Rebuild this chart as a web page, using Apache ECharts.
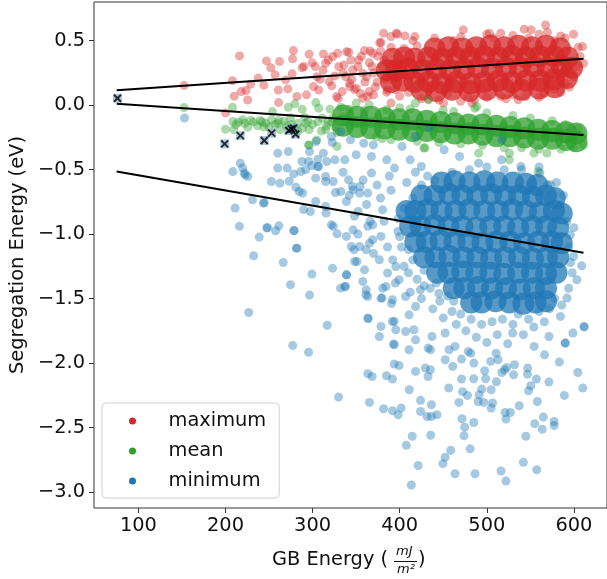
<!DOCTYPE html>
<html>
<head>
<meta charset="utf-8">
<script src="https://cdn.jsdelivr.net/npm/echarts@6/dist/echarts.min.js"></script>
<style>
  html, body { margin: 0; padding: 0; background: #fff; }
  #chart { width: 607px; height: 579px; }
</style>
</head>
<body>
<div id="chart"></div>
<script>
// tick values
var xTicks = [100, 200, 300, 400, 500, 600];
var yTicks = [-3.0, -2.5, -2.0, -1.5, -1.0, -0.5, 0.0, 0.5];
var seriesNames = ['maximum', 'mean', 'minimum'];

// maximum - scattered points
var maxSparse = [
  [152.5,0.152],[216,0.382],[208,0.19],[200,-0.06],[210,0.07],[218,0.105],[225.5,0.04],[223.6,0.113],[229,0.163],
  [237.5,0.21],[247,0.343],[252,0.29],[257,0.235],[244,0.155],[260.6,0.118],[262,0.338],[261,0.02],[269,0.196],
  [271.5,0.126],[276.5,0.243],[277,0.359],[278,0.423],[282,0.067],[288,0.29],[290,0.3],[293,0.08],[296,0.395],
  [299.5,0.328],[303,0.3],[301,0.144],[307,0.118],[312.5,0.397],[308.6,0.2],[315,0.325],[319,0.183],[323,0.377],
  [325.6,0.227],[328.7,0.403],[329.5,0.054],[334,0.105],[336,0.312],[341.5,0.41],[342.6,0.17],[346,0.274],
  [353,0.351],[350,0.132],[357.6,0.248],[363,0.067],[369,0.403],[377,0.485],[381.5,0.558],[396,0.558],[386,0.118],
  [392,0.196],[567.5,0.622],[569.5,0.566],[473,0.584],[390,0.532],[397.5,0.55],[406,0.537],[417.5,0.532],
  [378.5,0.485],[599.6,0.55],[610,0.454],[611,0.325],[590,0.17],[577,0.124],[544.8,0.067],[536,0.041],[516,0.067],
  [486,0.041],[483,0.016],[450.3,0.016],[433,0.047],[390,0.016],[365,0.105],[357.6,0.054],[342.6,0.144],
  [327.5,0.067],[339,0.415],[359.6,0.423],[516,0.558],[543,0.589],[503,0.558],[551,0.584],[584.8,0.537],
  [400,0.07],[425,0.05],[455,0.09],[470,0.03],[500,0.06],[530,0.08],[560,0.06],[585,0.1],[415,0.5],[440,0.52],
  [470,0.53],[500,0.55],[530,0.54],[560,0.55],[590,0.52],[605,0.45],[607,0.38],[604,0.3],[600,0.22],
  [335,0.25],[345,0.2],[352,0.3],[360,0.18],[365,0.33],[370,0.25],[372,0.14],[375,0.38],[380,0.3],[383,0.2],
  [366,0.42],[355,0.09],[370,0.08],[385,0.1],
  [305,0.22],[312,0.27],[318,0.35],[322,0.15],[330,0.3],[338,0.22],[344,0.35],[348,0.12],[356,0.38],[362,0.22],
  [368,0.3],[374,0.18],[378,0.42],[382,0.35],[386,0.25],[390,0.45],[395,0.12],[398,0.3],[405,0.44],[410,0.1],
  [420,0.46],[445,0.04],[462,0.5],[478,0.07],[508,0.52],[522,0.05],[548,0.52],[566,0.09],[578,0.5],[595,0.14]
];
// maximum - dense cloud
var maxCore = [
  [440,0.44],[456,0.45],[472,0.44],[488,0.45],[504,0.46],[520,0.45],[536,0.46],[552,0.45],[568,0.46],[584,0.44],
  [392,0.36],[405,0.37],[417,0.36],[433,0.37],[449,0.36],[465,0.37],[481,0.37],[497,0.38],[513,0.37],[529,0.38],
  [545,0.37],[561,0.38],[577,0.38],[593,0.37],
  [385,0.27],[396,0.27],[410,0.28],[426,0.27],[442,0.28],[458,0.27],[474,0.28],[490,0.29],[506,0.28],[522,0.29],
  [538,0.29],[554,0.3],[570,0.29],[586,0.3],[598,0.29],
  [390,0.18],[403,0.19],[417,0.18],[433,0.18],[449,0.17],[465,0.18],[481,0.17],[497,0.18],[513,0.19],[529,0.18],
  [545,0.19],[561,0.19],[577,0.2],[592,0.21],
  [425,0.12],[442,0.11],[460,0.12],[480,0.11],[500,0.12],[520,0.13],[540,0.12],[560,0.13],[578,0.14]
];

// mean - scattered points
var meanSparse = [
  [152.5,-0.019],[208,-0.016],[200,-0.186],[208.5,-0.127],[215,-0.132],[219.8,-0.114],[225.5,-0.171],[229,-0.119],
  [236.9,-0.16],[239.9,-0.119],[246.4,-0.14],[253.9,-0.05],[252.7,-0.114],[261,-0.119],[267,-0.127],[272,-0.016],
  [274.6,-0.1],[279.5,0.01],[288,-0.031],[290.5,-0.093],[294.7,-0.127],[303.7,0.02],[307,-0.023],[311,-0.1],
  [315,-0.19],[320,-0.031],[323,-0.1],[332.4,-0.016],[334.3,-0.088],[338.8,-0.127],[342.6,-0.031],[350,0.016],
  [359.6,-0.042],[295.4,-0.308],[263,-0.19],[288,-0.18],[304.7,-0.27],[209.5,-0.19],[296,-0.31],[328,-0.32],
  [429,-0.33],[490.7,-0.372],[525.9,-0.424],[559,-0.515],[611,-0.313],[569,-0.372],[488.5,-0.011],[433,0.041],
  [385,-0.036],[486.3,-0.023],[526,-0.372],[554,-0.372],[365,0.002],[418,0.016],[373,-0.243],[390,-0.269],
  [427.7,-0.333],[400,-0.02],[450,-0.04],[500,-0.06],[550,-0.1],[590,-0.15],[380,-0.26],[420,-0.28],[470,-0.3],
  [520,-0.33],[560,-0.34],[600,-0.33],[244,-0.17],[257,-0.15],[270,-0.16],[283,-0.14],[300,-0.15],[318,-0.13],
  [326,-0.17],[283,-0.2],[310,-0.2],
  [212,-0.15],[222,-0.14],[232,-0.13],[242,-0.13],[250,-0.17],[260,-0.14],[276,-0.15],[292,-0.14],[296,-0.19],
  [306,-0.13],[316,-0.16],[322,-0.13],[328,-0.21],[412,-0.03],[462,-0.05],[530,-0.08],[575,-0.12],[605,-0.18],
  [445,-0.29],[495,-0.31],[540,-0.33],[585,-0.34]
];
// mean - dense band
var meanCore = [
  [335,-0.08],[351,-0.09],[367,-0.09],[383,-0.1],[399,-0.11],[415,-0.11],[431,-0.12],[447,-0.13],[463,-0.14],
  [479,-0.15],[495,-0.15],[511,-0.16],[527,-0.17],[543,-0.18],[559,-0.19],[575,-0.2],[591,-0.21],[603,-0.22],
  [335,-0.16],[351,-0.17],[367,-0.18],[383,-0.18],[399,-0.19],[415,-0.2],[431,-0.2],[447,-0.21],[463,-0.22],
  [479,-0.22],[495,-0.23],[511,-0.24],[527,-0.24],[543,-0.25],[559,-0.26],[575,-0.26],[591,-0.27],[603,-0.28]
];

// minimum - scattered points
var minSparse = [
  [153,-0.1],[208.5,-0.515],[217,-0.45],[221.7,-0.527],[225.5,-0.553],[219.8,-0.488],[260,-0.372],[272,-0.36],
  [252.7,-0.592],[260,-0.488],[270.8,-0.488],[278.3,-0.533],[287.8,-0.437],[304,-0.282],[322.6,-0.29],[292,-0.5],
  [299.2,-0.47],[306,-0.419],[312.4,-0.372],[316.2,-0.437],[325.6,-0.424],[303.5,-0.566],[314.9,-0.592],
  [280.8,-0.636],[284.6,-0.67],[222.5,-0.54],[273,-0.59],[286.4,-0.515],[296.5,-0.36],[262.5,-0.605],
  [211,-0.798],[231,-0.734],[243.6,-0.76],[216,-0.94],[247.4,-0.953],[257.6,-0.974],[261.3,-0.936],[238.7,-1.023],
  [278.3,-0.974],[232.3,-1.168],[281.4,-1.109],[266.3,-1.22],[274.6,-1.393],[299.2,-1.31],[296.5,-1.473],
  [226.6,-1.608],[316.8,-1.707],[277.2,-1.863],[322.9,-1.264],[332,-1.419],[338.8,-1.316],[337.6,-1.406],
  [348.3,-1.212],[347.5,-1.122],[357.6,-1.367],[363.3,-1.651],[363.3,-1.484],[378.5,-1.716],[376.6,-1.794],
  [393.7,-1.678],[392.9,-1.853],[390.6,-1.539],[379.7,-1.496],[384.2,-1.406],[323.7,-0.94],[328.2,-0.998],
  [315.4,-0.837],[303.5,-0.747],[289.7,-0.81],[338.8,-1.018],[344.5,-1.096],[295.4,-0.437],[306.7,-0.476],
  [326.2,-0.678],[338.8,-0.747],[354,-0.682],[363.3,-0.94],[369,-1.044],[361.5,-1.122],
  [295.4,-1.916],[329.8,-2.264],[364,-1.656],[363.4,-2.083],[368.3,-2.104],[365.3,-2.305],[381.5,-2.354],
  [384.8,-2.098],[391.7,-2.124],[393.7,-2.008],[399.3,-2.019],[391.7,-2.37],[398.2,-2.401],[401.6,-2.349],
  [407.6,-2.638],[414.4,-2.568],[421.2,-2.794],[413.3,-2.946],[411,-2.207],[418.2,-2.065],[423.9,-2.289],
  [423.9,-2.375],[431.5,-2.414],[436.4,-2.414],[442.8,-2.401],[435.6,-2.56],[429.4,-2.039],[432.6,-2.104],
  [435.3,-2.052],[436.4,-2.323],[449.5,-2.78],[452.1,-2.731],[458.5,-2.677],[463.5,-2.858],[456.3,-2.193],
  [460.9,-2.026],[471,-1.969],[471,-2.124],[472.2,-2.222],[477.8,-2.251],[468,-2.305],[471.5,-2.432],
  [474.6,-2.497],[473.8,-2.564],[480.9,-2.665],[485,-2.461],[486.5,-2.858],[485,-2.122],[494.2,-2.202],
  [491.2,-2.246],[496.5,-2.305],[498.7,-2.122],[505,-2.207],[506.6,-2.31],[505,-2.349],[511,-2.145],
  [516.4,-2.837],[522,-2.915],[522,-2.434],[527,-2.383],[521,-2.383],[537.2,-2.331],[542,-2.77],[544.8,-2.568],
  [548,-2.215],[555,-2.47],[558,-2.298],[563.7,-2.513],[557.3,-2.827],[564.9,-2.419],[571.3,-2.147],
  [577.3,-2.453],[577.3,-2.484],[589,-2.251],[604.5,-2.073],[610.2,-2.194],[583.3,-1.992],[598.9,-1.767],
  [611.7,-1.721],[550.5,-2.176],[566.3,-1.936],[590,-1.845],[517.3,-2.073],[522.9,-2.034],[530.8,-2.091],
  [546.7,-2.086],[497.5,-2.06],[490,-2.298],[406.8,-1.755],[395.5,-1.742],[416.3,-1.742],[410.7,-1.897],
  [432.6,-1.884],[452.2,-1.974],[456.7,-1.897],[481.6,-1.923],[485.1,-2],[504.4,-1.987],[512.9,-1.974],
  [520.4,-2.052],[531.8,-2.013],[546.9,-2.039],[557,-2.124],
  [393.7,-1.858],[391.7,-1.678],[410.7,-1.626],[418.2,-1.82],[437.1,-1.794],[435.3,-1.897],[452.2,-1.767],
  [463.5,-1.871],[478.7,-1.91],[510.7,-1.923],[529.7,-1.767],[554.3,-1.871],[571.3,-1.794],[590.1,-1.845],
  [584.5,-1.638],[611.7,-1.716],[609,-1.246],[603.4,-1.354],[599.6,-1.174],[595.8,-1.006],[584.5,-0.773],
  [573.2,-0.618],[592.1,-1.496],[350.9,-1.212],[359.6,-1.277],[361.5,-1.432],[378.5,-1.496],[380.4,-1.419],
  [391.7,-1.509],[399.3,-1.354],[406.8,-1.484],[418.2,-1.561],[423.8,-1.432],[346.5,-0.967],[352.2,-0.825],
  [354,-1.096],[365.3,-1.07],[369,-0.928],[376.6,-1.199],[386.1,-1.302],[395.5,-1.251],[378.5,-1.018],
  [380.4,-0.812],[363.3,-0.682],[346.5,-0.657],
  [244.6,-0.755],[248.2,-0.949],[278.9,-0.972],[282,-1.109],[288.6,-0.682],[297.4,-0.825],[315,-0.786],
  [321.5,-0.928],[332.4,-0.67],[345.7,-0.631],[339,-1.316],[337,-1.406],[361.2,-1.47],
  [321.5,-0.243],[332.4,-0.205],[343.5,-0.269],[358.8,-0.295],[369.8,-0.308],[350,-0.385],[367.6,-0.398],
  [385.1,-0.424],[402.7,-0.32],[418.1,-0.243],[433.4,-0.178],[451,-0.346],[394,-0.488],[412,-0.424],
  [424.8,-0.476],[468.7,-0.398],[490.6,-0.45],[517,-0.424],[539,-0.476],[561,-0.527],[569.8,-0.618],
  [517,-0.269],[306.1,-0.476],[315,-0.553],[323.7,-0.592],[341.3,-0.579],[354.5,-0.631],[367.6,-0.527],
  [337,-0.424],
  [335,-0.52],[342,-0.7],[348,-0.86],[352,-1.0],[358,-0.58],[362,-0.77],[366,-0.9],[370,-1.15],[374,-0.62],
  [378,-0.72],[382,-0.9],[386,-1.1],[388,-0.55],[390,-0.66],[392,-1.2],[395,-1.38],[398,-0.98],[402,-1.1],
  [405,-1.25],[408,-0.6],[410,-1.3],[412,-1.45],[415,-1.2],[418,-0.52],[420,-1.35],[425,-1.5],[428,-1.28],
  [432,-0.55],[435,-1.42],[438,-1.58],[442,-1.38],[446,-1.52],[450,-1.65],[455,-1.48],[460,-1.6],[465,-1.7],
  [470,-1.62],[476,-1.75],[482,-1.66],[488,-1.8],[494,-1.7],[500,-1.84],[506,-1.68],[512,-1.78],[518,-1.66],
  [524,-1.85],[530,-1.7],[536,-1.62],[542,-1.78],[548,-1.66],[554,-1.72],[560,-1.6],[566,-1.68],[572,-1.58],
  [578,-1.5],[586,-1.55],[594,-1.42],[598,-1.3],[594,-1.1],[592,-0.9],[588,-0.7],[580,-0.6],[560,-0.48],
  [540,-0.5],[520,-0.5],[500,-0.48],[480,-0.5],[460,-0.52],[440,-0.58],[425,-0.62],[415,-0.72],[405,-0.8],
  [398,-0.88],[400,-1.02],[410,-1.12],[420,-0.9],[428,-1.4],[445,-1.46],[462,-1.52],[596,-1.22],[600,-0.95]
];
// minimum - dense cloud
var minCore = [
  [448,-0.6],[463,-0.59],[480,-0.6],[497,-0.59],[512,-0.6],[530,-0.6],[545,-0.61],[558,-0.62],
  [425,-0.7],[440,-0.7],[457,-0.69],[472,-0.7],[489,-0.7],[505,-0.69],[521,-0.7],[537,-0.7],[553,-0.71],
  [568,-0.7],[578,-0.72],
  [408,-0.82],[418,-0.82],[432,-0.81],[448,-0.82],[464,-0.82],[480,-0.81],[497,-0.82],[513,-0.82],[529,-0.81],
  [545,-0.82],[561,-0.83],[577,-0.82],[586,-0.84],
  [412,-0.94],[424,-0.94],[440,-0.93],[456,-0.94],[472,-0.94],[488,-0.95],[504,-0.94],[520,-0.94],[536,-0.95],
  [552,-0.94],[568,-0.94],[582,-0.95],
  [418,-1.06],[431,-1.06],[447,-1.05],[463,-1.06],[479,-1.06],[495,-1.07],[511,-1.06],[527,-1.06],[543,-1.07],
  [559,-1.06],[575,-1.06],[586,-1.07],
  [428,-1.18],[441,-1.18],[457,-1.17],[473,-1.18],[489,-1.18],[505,-1.19],[521,-1.18],[537,-1.18],[553,-1.19],
  [569,-1.18],[582,-1.18],
  [443,-1.3],[456,-1.3],[472,-1.29],[488,-1.3],[504,-1.3],[520,-1.31],[536,-1.3],[552,-1.3],[568,-1.31],[580,-1.3],
  [462,-1.42],[474,-1.42],[490,-1.41],[506,-1.42],[522,-1.42],[538,-1.43],[554,-1.42],[568,-1.42],
  [482,-1.53],[494,-1.53],[510,-1.52],[526,-1.53],[542,-1.54],[556,-1.53],[568,-1.52]
];

// highlighted structures (black crosses)
var specialPoints = [
  [76,0.054],[199,-0.3],[217,-0.236],[244.5,-0.274],[253,-0.217],[272.7,-0.197],[275.7,-0.184],[278.3,-0.178],[280.5,-0.225]
];

// linear fits
var fitMax = [[75,0.115],[611,0.36]];
var fitMean = [[75,0.01],[611,-0.232]];
var fitMin = [[75,-0.515],[611,-1.145]];

var colors = { maximum: '#d62728', mean: '#2ca02c', minimum: '#1f77b4' };
var font = 'DejaVu Sans';

function sparse(name, data) {
  return {
    name: name, type: 'scatter', data: data, symbolSize: 9,
    itemStyle: { color: colors[name], opacity: 0.4 },
    emphasis: { disabled: true }, silent: true
  };
}
function core(name, data) {
  return {
    name: name, type: 'scatter', data: data, symbolSize: 22,
    itemStyle: { color: colors[name], opacity: 0.75 },
    emphasis: { disabled: true }, silent: true
  };
}
function fit(data) {
  return {
    name: 'fit', type: 'line', data: data, symbol: 'none', silent: true,
    lineStyle: { color: '#000', width: 2 }
  };
}

var myChart = echarts.init(document.getElementById('chart'), null, { renderer: 'canvas' });

var option = {
  animation: false,
  backgroundColor: '#fff',
  grid: {
    left: 91, top: 2, width: 519.5, height: 506,
    show: true, borderColor: '#333', borderWidth: 1, backgroundColor: 'transparent'
  },
  legend: {
    orient: 'vertical',
    left: 102, top: 403,
    data: seriesNames.map(function (n) {
      return { name: n, icon: 'circle', itemStyle: { opacity: 1 } };
    }),
    itemWidth: 50, itemHeight: 7, itemGap: 10,
    padding: [8, 13, 7, 27],
    textStyle: { fontFamily: font, fontSize: 19.4, color: '#111', lineHeight: 20, padding: [0, 0, 0, 6] },
    backgroundColor: 'rgba(255,255,255,0.8)',
    borderColor: '#d0d0d0', borderWidth: 1, borderRadius: 4
  },
  xAxis: {
    type: 'value', min: 49, max: 638,
    axisLine: { show: false, onZero: false },
    splitLine: { show: false },
    axisTick: { show: true, length: 5, customValues: xTicks, lineStyle: { color: '#333' } },
    axisLabel: {
      customValues: xTicks, margin: 8,
      fontFamily: font, fontSize: 19.4, color: '#111'
    }
  },
  yAxis: {
    type: 'value', min: -3.124, max: 0.80,
    name: 'Segregation Energy (eV)',
    nameLocation: 'middle', nameGap: 66,
    nameTextStyle: { fontFamily: font, fontSize: 19.4, color: '#111' },
    axisLine: { show: false, onZero: false },
    splitLine: { show: false },
    axisTick: { show: true, length: 5, customValues: yTicks, lineStyle: { color: '#333' } },
    axisLabel: {
      customValues: yTicks, margin: 9,
      fontFamily: font, fontSize: 19.4, color: '#111',
      formatter: function (v) {
        return (v < 0 ? '\u2212' : '') + Math.abs(v).toFixed(1);
      }
    }
  },
  // x axis title with the stacked mJ / m² fraction
  graphic: [
    { type: 'text', left: 272, top: 550,
      style: { text: 'GB Energy (', font: '19.4px "DejaVu Sans"', fill: '#111' } },
    { type: 'text', left: 396, top: 545,
      style: { text: 'mJ', font: 'italic 13px "DejaVu Sans"', fill: '#111' } },
    { type: 'line', shape: { x1: 394, y1: 561.5, x2: 417, y2: 561.5 },
      style: { stroke: '#111', lineWidth: 1 } },
    { type: 'text', left: 397, top: 563,
      style: { text: 'm\u00b2', font: 'italic 13px "DejaVu Sans"', fill: '#111' } },
    { type: 'text', left: 418, top: 550,
      style: { text: ')', font: '19.4px "DejaVu Sans"', fill: '#111' } }
  ],
  series: [
    sparse('maximum', maxSparse),
    core('maximum', maxCore),
    sparse('mean', meanSparse),
    core('mean', meanCore),
    sparse('minimum', minSparse),
    core('minimum', minCore),
    {
      name: 'special', type: 'scatter', data: specialPoints, symbol: 'rect', symbolSize: 9, silent: true,
      itemStyle: { color: '#6f9fbf', opacity: 0.55 }
    },
    {
      name: 'special', type: 'scatter', data: specialPoints, symbol: 'path://M0,0L10,10M10,0L0,10',
      symbolSize: 7, silent: true,
      itemStyle: { color: 'none', borderColor: '#000', borderWidth: 2 }
    },
    fit(fitMax),
    fit(fitMean),
    fit(fitMin)
  ]
};

if (option && typeof option === 'object') {
  myChart.setOption(option);
}
</script>
</body>
</html>
